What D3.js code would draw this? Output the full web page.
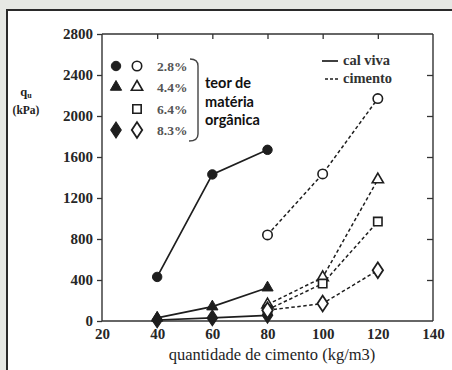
<!DOCTYPE html>
<html>
<head>
<meta charset="utf-8">
<script src="https://cdn.jsdelivr.net/npm/d3@7/dist/d3.min.js"></script>
<style>
  html, body { margin: 0; padding: 0; background: #e6e8e4; }
  svg { display: block; }
  .serif { font-family: "Liberation Serif", "Times New Roman", Times, "DejaVu Serif", serif; }
</style>
</head>
<body>
<svg id="chart" width="452" height="370"></svg>
<script>
// Cement / quicklime content (kg/m3) and unconfined strength qu (kPa)
const xTicks = [20, 40, 60, 80, 100, 120, 140];
const yTicks = [0, 400, 800, 1200, 1600, 2000, 2400, 2800];

const contents = ["2.8%", "4.4%", "6.4%", "8.3%"];
const shapes = ["circle", "triangle", "square", "diamond"];

// quicklime (cal viva), solid lines with filled markers
const calX = [40, 60, 80];
const cal28 = [430, 1430, 1670];
const cal44 = [30, 140, 325];
const cal83 = [10, 30, 55];

// cement (cimento), dashed lines with open markers
const cimX = [80, 100, 120];
const cim28 = [840, 1435, 2170];
const cim44 = [160, 425, 1380];
const cim64 = [110, 365, 970];
const cim83 = [105, 170, 495];

const series = [
  { x: calX, y: cal28, shape: "circle",   filled: true },
  { x: calX, y: cal44, shape: "triangle", filled: true },
  { x: calX, y: cal83, shape: "diamond",  filled: true },
  { x: cimX, y: cim28, shape: "circle",   filled: false },
  { x: cimX, y: cim44, shape: "triangle", filled: false },
  { x: cimX, y: cim64, shape: "square",   filled: false },
  { x: cimX, y: cim83, shape: "diamond",  filled: false }
];

const svg = d3.select("#chart");
const ink = "#1e1e1e";

// white panel with dark frame on top/left
svg.append("rect").attr("x", 0).attr("y", 0).attr("width", 452).attr("height", 370).attr("fill", "#e6e8e4");
svg.append("rect").attr("x", 7).attr("y", 10).attr("width", 460).attr("height", 380)
  .attr("fill", "#fff").attr("stroke", "#2a2a2a").attr("stroke-width", 2);

const L = 102, R = 433, T = 34, B = 321;
const x = d3.scaleLinear().domain([20, 140]).range([L, R]);
const y = d3.scaleLinear().domain([0, 2800]).range([B, T]);

const g = svg.append("g");

// left axis: outward ticks with labels
const axLeft = g.append("g").attr("transform", `translate(${L},0)`)
  .call(d3.axisLeft(y).tickValues(yTicks).tickSize(5).tickPadding(4).tickFormat(d3.format("d")));
// bottom axis: labels only
const axBottom = g.append("g").attr("transform", `translate(0,${B})`)
  .call(d3.axisBottom(x).tickValues(xTicks).tickSize(0).tickPadding(7).tickFormat(d3.format("d")));
// top and right axes: inward ticks, no labels
const axTop = g.append("g").attr("transform", `translate(0,${T})`)
  .call(d3.axisBottom(x).tickValues([40, 60, 80, 100, 120]).tickSize(5).tickFormat(""));
const axRight = g.append("g").attr("transform", `translate(${R},0)`)
  .call(d3.axisLeft(y).tickValues([400, 800, 1200, 1600, 2000, 2400]).tickSize(6).tickFormat(""));

[axLeft, axBottom, axTop, axRight].forEach(a => {
  a.attr("font-family", null).attr("font-size", null);
  a.select(".domain").attr("stroke", "#333").attr("stroke-width", 1.4);
  a.selectAll(".tick line").attr("stroke", "#333").attr("stroke-width", 1.3);
  a.selectAll("text").attr("class", "serif").attr("font-size", 15)
    .attr("font-weight", "bold").attr("fill", "#262626");
});
axTop.select(".domain").attr("d", `M${L},0H${R}`);
axRight.select(".domain").attr("d", `M0,${T}V${B}`);
axLeft.select(".domain").attr("d", `M0,${T}V${B}`);
axBottom.select(".domain").attr("d", `M${L},0H${R}`);

// axis titles
const yl = svg.append("text").attr("class", "serif").attr("x", 26).attr("y", 96).attr("text-anchor", "middle")
  .attr("font-weight", "bold").attr("font-size", 12.5).attr("fill", ink);
yl.append("tspan").text("q");
yl.append("tspan").attr("font-size", 8).attr("dy", 2).text("u");
svg.append("text").attr("class", "serif").attr("x", 26).attr("y", 114).attr("text-anchor", "middle")
  .attr("font-weight", "bold").attr("font-size", 11.5).attr("fill", ink)
  .text("(kPa)");
svg.append("text").attr("class", "serif").attr("x", 272).attr("y", 360).attr("text-anchor", "middle")
  .attr("font-size", 16.5).attr("fill", ink)
  .text("quantidade de cimento (kg/m3)");

// marker path generator
function markerPath(shape) {
  const sym = { circle: d3.symbolCircle, triangle: d3.symbolTriangle,
                square: d3.symbolSquare, diamond: d3.symbolDiamond }[shape];
  const size = { circle: 70, triangle: 55, square: 70, diamond: 72 }[shape];
  return d3.symbol().type(sym).size(size)();
}
function drawMarker(parent, cx, cy, shape, filled) {
  parent.append("path").attr("d", markerPath(shape))
    .attr("transform", `translate(${cx},${cy})` + (shape === "diamond" ? " scale(1.15,1)" : ""))
    .attr("fill", filled ? ink : "#fff")
    .attr("stroke", ink).attr("stroke-width", filled ? 1 : 1.6);
}

const line = d3.line().x(d => x(d[0])).y(d => y(d[1]));
const plot = svg.append("g");
series.forEach(s => {
  const pts = s.x.map((v, i) => [v, s.y[i]]);
  plot.append("path").attr("d", line(pts)).attr("fill", "none")
    .attr("stroke", ink).attr("stroke-width", s.filled ? 1.7 : 1.5)
    .attr("stroke-dasharray", s.filled ? null : "3.5,2.5");
});
series.forEach(s => {
  s.x.forEach((v, i) => drawMarker(plot, x(v), y(s.y[i]), s.shape, s.filled));
});

// legend: organic matter content
const leg = svg.append("g");
const rowY = [66, 87, 109, 130];
contents.forEach((c, i) => {
  const hasCal = i !== 2;
  if (hasCal) drawMarker(leg, 116, rowY[i], shapes[i], true);
  drawMarker(leg, 137, rowY[i], shapes[i], false);
  leg.append("text").attr("class", "serif").attr("x", 157).attr("y", rowY[i] + 4.5)
    .attr("font-weight", "bold").attr("font-size", 13.5)
    .attr("fill", "#555").text(c);
});
// bracket
leg.append("path").attr("d", "M190,59 Q198,59 198,66 V134 Q198,141 189,141")
  .attr("fill", "none").attr("stroke", "#444").attr("stroke-width", 1.4);
["teor de", "matéria", "orgânica"].forEach((t, i) => {
  leg.append("text").attr("x", 205).attr("y", 88 + i * 18.5)
    .attr("font-family", "Lato, 'Open Sans', sans-serif").attr("font-weight", "bold")
    .attr("font-size", 14.5).attr("fill", "#111").text(t);
});

// legend: binder type
leg.append("line").attr("x1", 322).attr("x2", 338).attr("y1", 61).attr("y2", 61)
  .attr("stroke", ink).attr("stroke-width", 1.7);
leg.append("line").attr("x1", 325).attr("x2", 339).attr("y1", 79).attr("y2", 79)
  .attr("stroke", ink).attr("stroke-width", 1.5).attr("stroke-dasharray", "3,2");
leg.append("text").attr("class", "serif").attr("x", 343).attr("y", 65)
  .attr("font-weight", "bold").attr("font-size", 14.5).attr("fill", "#333").text("cal viva");
leg.append("text").attr("class", "serif").attr("x", 343).attr("y", 83)
  .attr("font-weight", "bold").attr("font-size", 14.5).attr("fill", "#333").text("cimento");
</script>
</body>
</html>
